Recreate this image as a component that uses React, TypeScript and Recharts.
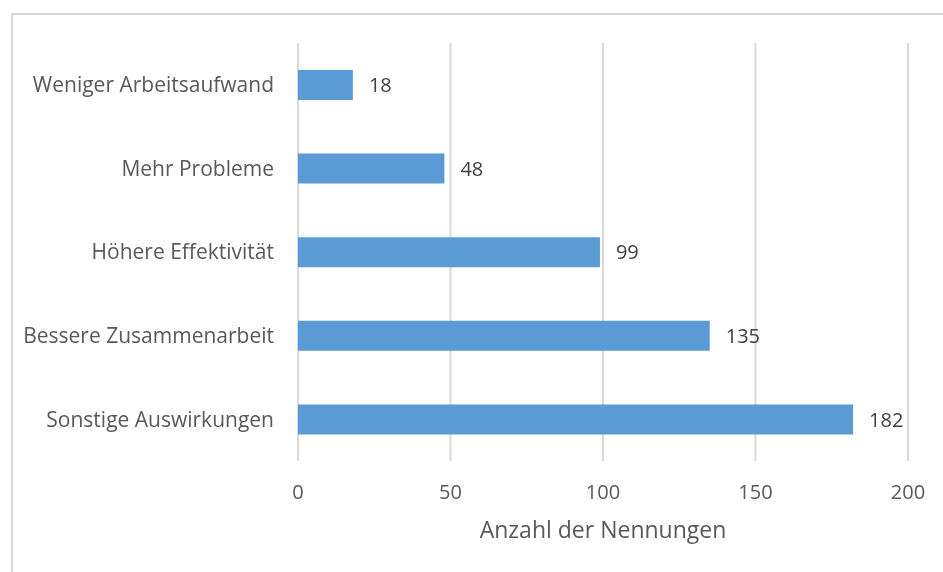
import { BarChart, Bar, XAxis, YAxis, CartesianGrid, LabelList } from "recharts";

const categories = [
  "Weniger Arbeitsaufwand",
  "Mehr Probleme",
  "Höhere Effektivität",
  "Bessere Zusammenarbeit",
  "Sonstige Auswirkungen",
];
const counts = [18, 48, 99, 135, 182];
const xTicks = [0, 50, 100, 150, 200];

const data = categories.map((name, i) => ({ name, value: counts[i] }));

const FONT = "'Open Sans', sans-serif";

export default function App() {
  return (
    <div>
      {/* chart frame */}
      <div
        style={{
          position: "fixed",
          left: 11,
          top: 13,
          width: 960,
          height: 600,
          border: "2px solid #d9d9d9",
          boxSizing: "border-box",
        }}
      />
      <div style={{ position: "fixed", left: 0, top: 0 }}>
        <BarChart
          width={943}
          height={572}
          data={data}
          layout="vertical"
          margin={{ top: 43, right: 35, bottom: 0, left: 0 }}
          style={{ fontFamily: FONT }}
        >
          <CartesianGrid horizontal={false} stroke="#d9d9d9" strokeWidth={2} />
          <XAxis
            type="number"
            domain={[0, 200]}
            ticks={xTicks}
            axisLine={false}
            tickLine={false}
            tickSize={0}
            tickMargin={24}
            height={111}
            tick={{ fill: "#595959", fontSize: 20 }}
            label={{
              value: "Anzahl der Nennungen",
              position: "insideTop",
              offset: 61,
              fill: "#595959",
              fontSize: 23,
            }}
          />
          <YAxis
            type="category"
            dataKey="name"
            width={298}
            axisLine={false}
            tickLine={false}
            tickSize={0}
            tickMargin={24}
            tick={{ fill: "#595959", fontSize: 21 }}
          />
          <Bar dataKey="value" fill="#5b9bd5" barSize={30} isAnimationActive={false}>
            <LabelList
              dataKey="value"
              position="right"
              offset={16}
              fill="#404040"
              fontSize={20}
            />
          </Bar>
        </BarChart>
      </div>
    </div>
  );
}
